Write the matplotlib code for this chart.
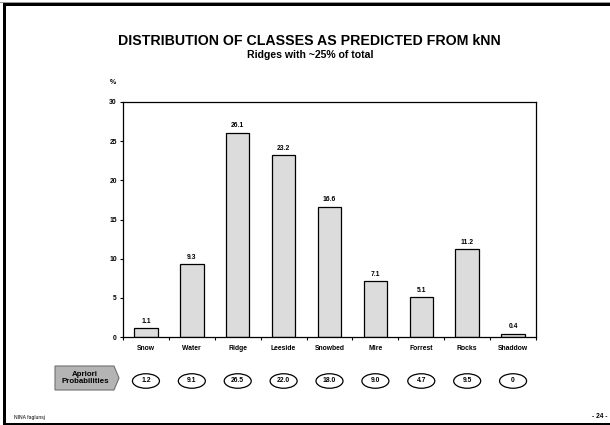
import matplotlib
matplotlib.use("Agg")
import matplotlib.pyplot as plt
from matplotlib.patches import Rectangle, Polygon, Ellipse
import numpy as np

categories = ["Snow", "Water", "Ridge", "Leeside", "Snowbed", "Mire", "Forrest", "Rocks", "Shaddow"]
predicted = [1.1, 9.3, 26.1, 23.2, 16.6, 7.1, 5.1, 11.2, 0.4]
apriori = ["1.2", "9.1", "26.5", "22.0", "18.0", "9.0", "4.7", "9.5", "0"]
yticks = [0, 5, 10, 15, 20, 25, 30]

plt.rcParams['font.family'] = ['Liberation Sans', 'DejaVu Sans']

W, H = 610, 425
fig = plt.figure(figsize=(W / 100, H / 100), dpi=100)

def fx(x):
    return x / W

def fy(y):
    return 1 - y / H

# axes
ax_l, ax_r, ax_t, ax_b = 123, 536, 102, 337
ax = fig.add_axes([fx(ax_l), fy(ax_b), (ax_r - ax_l) / W, (ax_b - ax_t) / H])
x = np.arange(len(categories))
ax.bar(x, predicted, width=0.51, color="#dcdcdc", edgecolor="black", linewidth=0.9, zorder=2)
for xi, v in zip(x, predicted):
    ax.text(xi, v + 0.45, f"{v:.1f}", ha="center", va="bottom", fontsize=4.9, fontweight="bold")
ax.set_xlim(-0.5, len(categories) - 0.5)
ax.set_ylim(0, 30)
ax.set_yticks(yticks)
ax.set_yticklabels([str(t) for t in yticks], fontsize=4.9, fontweight="bold")
ax.set_xticks(x)
ax.set_xticklabels(categories, fontsize=4.9, fontweight="bold")
ax.tick_params(axis="x", which="major", length=0, pad=6)
ax.set_xticks(np.arange(-0.5, len(categories), 1.0), minor=True)
ax.tick_params(axis="x", which="minor", length=2.5, width=0.8, direction="out")
ax.tick_params(axis="y", length=2.5, width=0.8, direction="out", pad=2)
for s in ax.spines.values():
    s.set_linewidth(0.9)
    s.set_color("black")

# y unit label
fig.text(fx(113), fy(83), "%", ha="center", va="center", fontsize=5, fontweight="bold")

# titles
fig.text(fx(309), fy(41), "DISTRIBUTION OF CLASSES AS PREDICTED FROM kNN",
         ha="center", va="center", fontsize=10.2, fontweight="bold")
fig.text(fx(310), fy(55), "Ridges with ~25% of total",
         ha="center", va="center", fontsize=7.6, fontweight="bold")

# Apriori arrow box
pts = [(55, 366), (114, 366), (119, 378), (114, 390), (55, 390)]
fig.add_artist(Polygon([(fx(a), fy(b)) for a, b in pts], closed=True,
                       transform=fig.transFigure, facecolor="#b4b4b4",
                       edgecolor="#707070", linewidth=0.8))
fig.text(fx(85), fy(378), "Apriori\nProbabilities", ha="center", va="center",
         fontsize=5.7, fontweight="bold", linespacing=1.15)

# ellipses with apriori values, aligned with category centres
ax_to_fig = ax.transData + fig.transFigure.inverted()
for xi, lab in zip(x, apriori):
    cx, _ = ax_to_fig.transform((xi, 0))
    fig.add_artist(Ellipse((cx, fy(381)), 27 / W, 14.5 / H, transform=fig.transFigure,
                           facecolor="white", edgecolor="black", linewidth=0.9))
    fig.text(cx, fy(381), lab, ha="center", va="center", fontsize=4.9, fontweight="bold")

# footer
fig.text(fx(14), fy(417), "NINA faglunsj", ha="left", va="center", fontsize=3.6)
fig.text(fx(607), fy(417), "- 24 -", ha="right", va="center", fontsize=4.8, fontweight="bold")

# slide frame
fig.add_artist(Rectangle((0, fy(3.3)), 1, 1.0 / H, transform=fig.transFigure,
                         facecolor="#9a9a9a", edgecolor="none"))
fig.add_artist(Rectangle((fx(3.3), fy(6)), 1, 2.7 / H, transform=fig.transFigure,
                         facecolor="black", edgecolor="none"))
fig.add_artist(Rectangle((fx(3.3), 0), 2.7 / W, fy(3.3), transform=fig.transFigure,
                         facecolor="black", edgecolor="none"))
fig.add_artist(Rectangle((fx(3.3), 0), 1, 2.4 / H, transform=fig.transFigure,
                         facecolor="black", edgecolor="none"))

fig.savefig("out.png", dpi=100)
